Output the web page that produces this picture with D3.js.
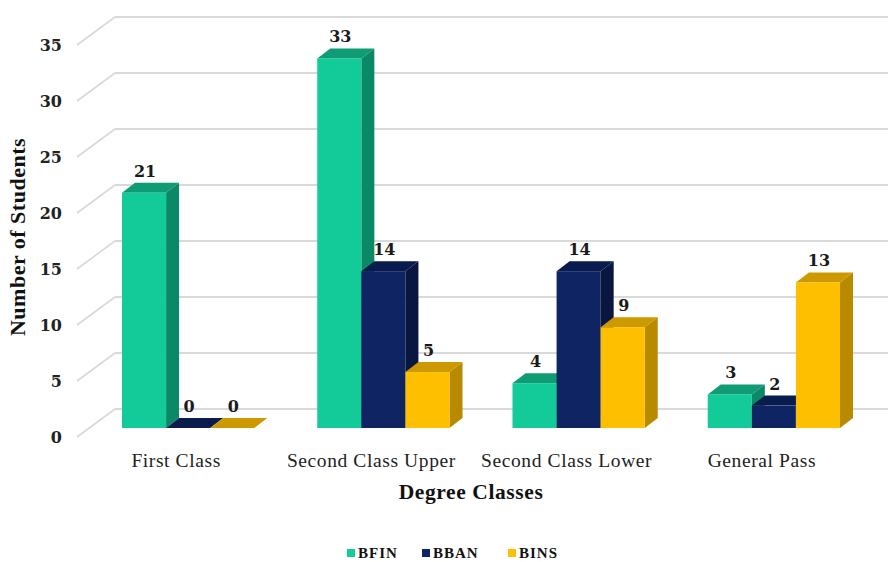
<!DOCTYPE html>
<html>
<head>
<meta charset="utf-8">
<script src="https://cdn.jsdelivr.net/npm/d3@7"></script>
<style>
html,body{margin:0;padding:0;background:#fff;}
svg{display:block;}
</style>
</head>
<body>
<svg id="chart" width="888" height="562"></svg>
<script>
const categories = ["First Class", "Second Class Upper", "Second Class Lower", "General Pass"];
const seriesNames = ["BFIN", "BBAN", "BINS"];
const BFIN = [21, 33, 4, 3];
const BBAN = [0, 14, 14, 2];
const BINS = [0, 5, 9, 13];
const yTicks = [0, 5, 10, 15, 20, 25, 30, 35];

const seriesValues = [BFIN, BBAN, BINS];
const colors = {
  BFIN: {front: "#13CB98", side: "#0B8866", top: "#0F9C75"},
  BBAN: {front: "#0E2463", side: "#081640", top: "#0A1B4E"},
  BINS: {front: "#FDBF00", side: "#B98A00", top: "#CC9A00"}
};
const serif = "'Liberation Serif', 'DejaVu Serif', serif";
const numSerif = "'DejaVu Serif', 'Liberation Serif', serif";

const svg = d3.select("#chart");

const y = d3.scaleLinear().domain([0, 35]).range([428, 36]);
const x0 = d3.scaleBand().domain(categories).range([122, 840]).paddingInner(0.3226).paddingOuter(0);
const x1 = d3.scaleBand().domain(seriesNames).range([0, x0.bandwidth()]).padding(0);

// depth offsets
const wallBackDy = -19, wallFrontDy = 9, wallBackX = 115, wallFrontX = 77;
const bdx = 13, bdy = -10;

// back wall gridlines
const grid = svg.append("g");
yTicks.forEach(t => {
  const yf = y(t);
  grid.append("line").attr("x1", wallFrontX).attr("y1", yf + wallFrontDy)
    .attr("x2", wallBackX).attr("y2", yf + wallBackDy)
    .attr("stroke", "#d9d9d9").attr("stroke-width", 1.6);
  grid.append("line").attr("x1", wallBackX).attr("y1", yf + wallBackDy)
    .attr("x2", 888).attr("y2", yf + wallBackDy)
    .attr("stroke", "#d9d9d9").attr("stroke-width", 1.8);
});

// y tick labels
svg.append("g").selectAll("text").data(yTicks).join("text")
  .attr("x", 62).attr("y", d => y(d) + wallFrontDy)
  .attr("dy", "0.36em").attr("text-anchor", "end")
  .attr("font-family", numSerif).attr("font-weight", "bold").attr("font-size", 16)
  .attr("fill", "#222").text(d => d);

// bars
const bars = svg.append("g");
categories.forEach((cat, ci) => {
  seriesNames.forEach((s, si) => {
    const v = seriesValues[si][ci];
    const xl = x0(cat) + x1(s), w = x1.bandwidth();
    const xr = xl + w;
    const yt = y(v), yb = y(0);
    const c = colors[s];
    bars.append("path")
      .attr("d", `M${xr},${yb} L${xr + bdx},${yb + bdy} L${xr + bdx},${yt + bdy} L${xr},${yt} Z`)
      .attr("fill", c.side);
    bars.append("path")
      .attr("d", `M${xl},${yt} L${xr},${yt} L${xr + bdx},${yt + bdy} L${xl + bdx},${yt + bdy} Z`)
      .attr("fill", c.top);
    if (v > 0) {
      bars.append("rect").attr("x", xl).attr("y", yt).attr("width", w).attr("height", yb - yt)
        .attr("fill", c.front);
    }
    bars.append("text")
      .attr("x", xl + w / 2 + 1).attr("y", yt + bdy - 6)
      .attr("text-anchor", "middle")
      .attr("font-family", numSerif).attr("font-weight", "bold").attr("font-size", 16)
      .attr("fill", "#1a1a1a").text(v);
  });
});

// category labels
svg.append("g").selectAll("text").data(categories).join("text")
  .attr("x", d => x0(d) + x0.bandwidth() / 2 - 12).attr("y", 467)
  .attr("text-anchor", "middle")
  .attr("font-family", serif).attr("font-size", 19.5).attr("letter-spacing", 0.6)
  .attr("fill", "#222").text(d => d);

// axis titles
svg.append("text").attr("x", 471).attr("y", 499).attr("text-anchor", "middle")
  .attr("font-family", serif).attr("font-weight", "bold").attr("font-size", 21.5).attr("letter-spacing", 0.6)
  .attr("fill", "#111").text("Degree Classes");
svg.append("text").attr("transform", "translate(25,237) rotate(-90)").attr("text-anchor", "middle")
  .attr("font-family", serif).attr("font-weight", "bold").attr("font-size", 22).attr("letter-spacing", 0.5)
  .attr("fill", "#111").text("Number of Students");

// legend
const legendX = [347, 422, 508];
const leg = svg.append("g");
seriesNames.forEach((s, i) => {
  leg.append("rect").attr("x", legendX[i]).attr("y", 549).attr("width", 8).attr("height", 8)
    .attr("fill", colors[s].front);
  leg.append("text").attr("x", legendX[i] + 11).attr("y", 558)
    .attr("font-family", serif).attr("font-weight", "bold").attr("font-size", 15).attr("letter-spacing", 1)
    .attr("fill", "#111").text(s);
});
</script>
</body>
</html>
